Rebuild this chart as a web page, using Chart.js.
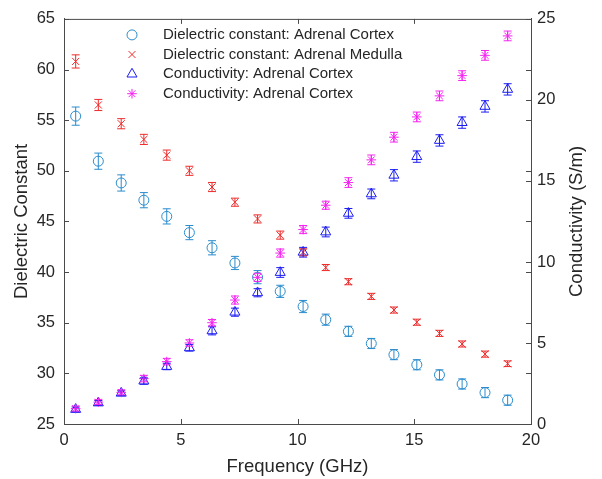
<!DOCTYPE html>
<html>
<head>
<meta charset="utf-8">
<title>Adrenal tissue dielectric properties</title>
<script src="https://cdn.jsdelivr.net/npm/chart.js@4.4.1/dist/chart.umd.min.js"></script>
<style>
    html, body { margin: 0; padding: 0; background: #fff; }
    #wrap { width: 602px; height: 479px; }
</style>
</head>
<body>
<div id="wrap"><canvas id="chart" width="602" height="479"></canvas></div>
<script>
// frekvence (GHz)
const frequency = [0.5, 1.47, 2.45, 3.42, 4.4, 5.37, 6.34, 7.32, 8.29, 9.26,
    10.24, 11.21, 12.18, 13.16, 14.13, 15.11, 16.08, 17.05, 18.03, 19.0];

// dielektricka konstanta
const epsCortex = [55.4, 50.95, 48.8, 47.1, 45.5, 43.9, 42.4, 40.9, 39.5, 38.1,
    36.6, 35.3, 34.15, 32.95, 31.85, 30.85, 29.85, 28.95, 28.1, 27.35];
const epsCortexErr = [0.9, 0.8, 0.8, 0.75, 0.75, 0.7, 0.7, 0.65, 0.65, 0.6,
    0.6, 0.55, 0.5, 0.5, 0.5, 0.5, 0.5, 0.5, 0.5, 0.5];
const epsMedulla = [60.8, 56.5, 54.65, 53.1, 51.55, 50.0, 48.4, 46.9, 45.25, 43.65,
    41.95, 40.45, 39.05, 37.6, 36.25, 35.05, 33.95, 32.9, 31.9, 30.95];
const epsMedullaErr = [0.65, 0.55, 0.5, 0.5, 0.5, 0.45, 0.45, 0.4, 0.4, 0.4,
    0.35, 0.3, 0.3, 0.3, 0.3, 0.3, 0.3, 0.3, 0.3, 0.28];

// vodivost (S/m)
const sigmaCortex = [0.9, 1.3, 1.9, 2.65, 3.55, 4.7, 5.75, 6.9, 8.1, 9.35,
    10.6, 11.85, 13.0, 14.2, 15.35, 16.5, 17.5, 18.6, 19.6, 20.65];
const sigmaCortexErr = [0.15, 0.15, 0.15, 0.2, 0.2, 0.2, 0.25, 0.25, 0.25, 0.3,
    0.3, 0.3, 0.3, 0.3, 0.35, 0.35, 0.35, 0.35, 0.35, 0.35];
const sigmaMedulla = [0.95, 1.35, 1.95, 2.8, 3.85, 5.0, 6.25, 7.65, 9.05, 10.55,
    12.0, 13.5, 14.9, 16.3, 17.7, 18.95, 20.25, 21.5, 22.75, 23.95];
const sigmaMedullaErr = [0.15, 0.15, 0.15, 0.2, 0.2, 0.2, 0.2, 0.25, 0.25, 0.25,
    0.25, 0.25, 0.3, 0.3, 0.3, 0.3, 0.3, 0.3, 0.3, 0.3];

const seriesLabels = [
    'Dielectric constant: Adrenal Cortex',
    'Dielectric constant: Adrenal Medulla',
    'Conductivity: Adrenal Cortex',
    'Conductivity: Adrenal Cortex'
];

const xTicks = [0, 5, 10, 15, 20];
const yLeftTicks = [25, 30, 35, 40, 45, 50, 55, 60, 65];
const yRightTicks = [0, 5, 10, 15, 20, 25];
const rightTitle = 'Conductivity (S/m)';

const FONT = '"Liberation Sans", Arial, Helvetica, sans-serif';
const TEXT_COLOR = '#262626';
const AXIS_COLOR = '#4a4a4a';

function toPoints(xs, ys) {
    return xs.map((x, i) => ({ x: x, y: ys[i] }));
}

// error bary - kreslene pres skaly grafu
const errorBarPlugin = {
    id: 'errorBars',
    afterDatasetsDraw(chart) {
        const ctx = chart.ctx;
        const xScale = chart.scales.x;
        chart.data.datasets.forEach(ds => {
            if (!ds.errors) return;
            const yScale = chart.scales[ds.yAxisID];
            ctx.save();
            ctx.strokeStyle = ds.borderColor;
            ctx.lineWidth = 1;
            ds.data.forEach((p, i) => {
                const err = ds.errors[i];
                const px = xScale.getPixelForValue(p.x);
                const yTop = yScale.getPixelForValue(p.y + err);
                const yBot = yScale.getPixelForValue(p.y - err);
                const cap = 4;
                ctx.beginPath();
                ctx.moveTo(px, yTop);
                ctx.lineTo(px, yBot);
                ctx.moveTo(px - cap, yTop);
                ctx.lineTo(px + cap, yTop);
                ctx.moveTo(px - cap, yBot);
                ctx.lineTo(px + cap, yBot);
                ctx.stroke();
            });
            ctx.restore();
        });
    }
};

// ramecek, vnitrni ticky a popisek prave osy jako v MATLABu
const boxPlugin = {
    id: 'matlabBox',
    afterDraw(chart) {
        const ctx = chart.ctx;
        const a = chart.chartArea;
        const tl = 5;
        ctx.save();
        ctx.strokeStyle = AXIS_COLOR;
        ctx.lineWidth = 1;
        ctx.beginPath();
        ctx.moveTo(a.left, a.top + 0.5);
        ctx.lineTo(a.right, a.top + 0.5);
        xTicks.forEach(v => {
            const px = Math.round(chart.scales.x.getPixelForValue(v)) + 0.5;
            ctx.moveTo(px, a.bottom);
            ctx.lineTo(px, a.bottom - tl);
            ctx.moveTo(px, a.top);
            ctx.lineTo(px, a.top + tl);
        });
        yLeftTicks.forEach(v => {
            const py = Math.round(chart.scales.y.getPixelForValue(v)) + 0.5;
            ctx.moveTo(a.left, py);
            ctx.lineTo(a.left + tl, py);
            ctx.moveTo(a.right, py);
            ctx.lineTo(a.right - tl, py);
        });
        yRightTicks.forEach(v => {
            const py = Math.round(chart.scales.y1.getPixelForValue(v)) + 0.5;
            ctx.moveTo(a.right, py);
            ctx.lineTo(a.right - tl, py);
        });
        ctx.stroke();

        // popisek prave osy cteny zdola nahoru
        ctx.translate(a.right + 46, (a.top + a.bottom) / 2);
        ctx.rotate(-Math.PI / 2);
        ctx.font = '18.5px ' + FONT;
        ctx.fillStyle = TEXT_COLOR;
        ctx.textAlign = 'center';
        ctx.textBaseline = 'middle';
        ctx.fillText(rightTitle, 0, 0);
        ctx.restore();
    }
};

// legenda uvnitr grafu bez ramecku
const insideLegendPlugin = {
    id: 'insideLegend',
    afterDraw(chart) {
        const ctx = chart.ctx;
        const a = chart.chartArea;
        const markerX = a.left + 68;
        const textX = a.left + 99;
        ctx.save();
        ctx.font = '15px ' + FONT;
        ctx.textBaseline = 'middle';
        chart.data.datasets.forEach((ds, i) => {
            const y = a.top + 16 + i * 19.6;
            ctx.strokeStyle = ds.borderColor;
            ctx.fillStyle = 'rgba(0,0,0,0)';
            Chart.helpers.drawPoint(ctx, {
                pointStyle: ds.pointStyle,
                radius: ds.pointRadius,
                borderWidth: 1,
                rotation: 0
            }, markerX, y);
            ctx.fillStyle = TEXT_COLOR;
            ctx.fillText(ds.label, textX, y);
        });
        ctx.restore();
    }
};

const datasets = [
    {
        label: seriesLabels[0],
        data: toPoints(frequency, epsCortex),
        errors: epsCortexErr,
        yAxisID: 'y',
        pointStyle: 'circle',
        pointRadius: 5,
        borderColor: '#2a8ccd',
        order: 4
    },
    {
        label: seriesLabels[1],
        data: toPoints(frequency, epsMedulla),
        errors: epsMedullaErr,
        yAxisID: 'y',
        pointStyle: 'crossRot',
        pointRadius: 5,
        borderColor: '#ee2a2a',
        order: 3
    },
    {
        label: seriesLabels[2],
        data: toPoints(frequency, sigmaCortex),
        errors: sigmaCortexErr,
        yAxisID: 'y1',
        pointStyle: 'triangle',
        pointRadius: 5.8,
        borderColor: '#1c1cf2',
        order: 2
    },
    {
        label: seriesLabels[3],
        data: toPoints(frequency, sigmaMedulla),
        errors: sigmaMedullaErr,
        yAxisID: 'y1',
        pointStyle: 'star',
        pointRadius: 4.8,
        borderColor: '#f524f0',
        order: 1
    }
];

datasets.forEach(ds => {
    ds.backgroundColor = 'rgba(0,0,0,0)';
    ds.borderWidth = 1;
    ds.pointHoverRadius = ds.pointRadius;
    ds.showLine = false;
});

new Chart(document.getElementById('chart').getContext('2d'), {
    type: 'scatter',
    data: { datasets: datasets },
    options: {
        responsive: false,
        animation: false,
        devicePixelRatio: 1,
        layout: { padding: { top: 17, left: 0, right: 0, bottom: 0 } },
        plugins: {
            legend: { display: false },
            tooltip: { enabled: false }
        },
        scales: {
            x: {
                type: 'linear',
                min: 0,
                max: 20,
                afterBuildTicks: s => { s.ticks = xTicks.map(v => ({ value: v })); },
                afterFit: s => { s.height = 55; },
                grid: { display: false, drawTicks: false },
                border: { display: true, color: AXIS_COLOR, width: 1 },
                ticks: {
                    color: TEXT_COLOR,
                    padding: 7,
                    maxRotation: 0,
                    font: { family: FONT, size: 16.5 }
                },
                title: {
                    display: true,
                    text: 'Frequency (GHz)',
                    color: TEXT_COLOR,
                    padding: { top: 0, bottom: 1 },
                    font: { family: FONT, size: 18.5 }
                }
            },
            y: {
                type: 'linear',
                position: 'left',
                min: 25,
                max: 65,
                afterBuildTicks: s => { s.ticks = yLeftTicks.map(v => ({ value: v })); },
                afterFit: s => { s.width = 64; },
                grid: { display: false, drawTicks: false },
                border: { display: true, color: AXIS_COLOR, width: 1 },
                ticks: {
                    color: TEXT_COLOR,
                    padding: 9,
                    font: { family: FONT, size: 16.5 }
                },
                title: {
                    display: true,
                    text: 'Dielectric Constant',
                    color: TEXT_COLOR,
                    padding: { top: 11, bottom: 0 },
                    font: { family: FONT, size: 18.5 }
                }
            },
            y1: {
                type: 'linear',
                position: 'right',
                min: 0,
                max: 25,
                afterBuildTicks: s => { s.ticks = yRightTicks.map(v => ({ value: v })); },
                afterFit: s => { s.width = 71; },
                grid: { display: false, drawTicks: false },
                border: { display: true, color: AXIS_COLOR, width: 1 },
                ticks: {
                    color: TEXT_COLOR,
                    padding: 6,
                    font: { family: FONT, size: 16.5 }
                },
                title: { display: false }
            }
        }
    },
    plugins: [errorBarPlugin, boxPlugin, insideLegendPlugin]
});
</script>
</body>
</html>
